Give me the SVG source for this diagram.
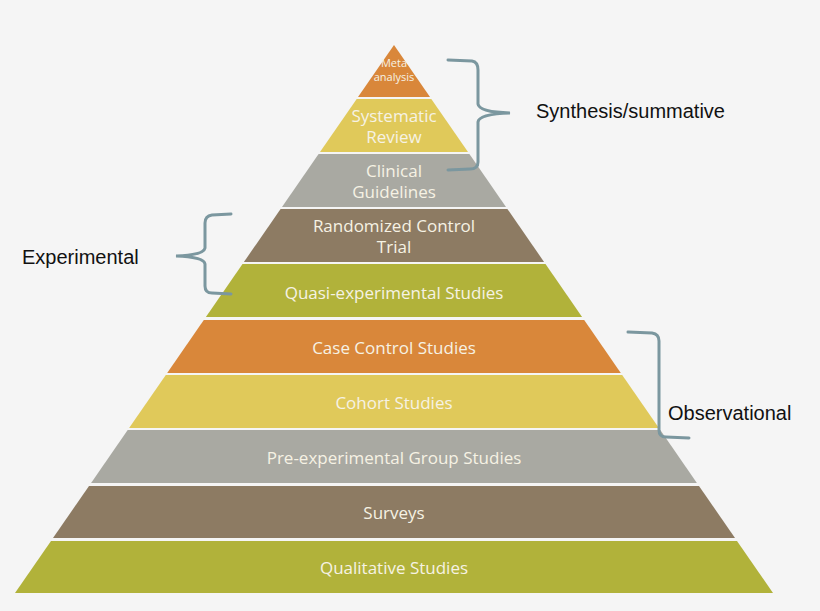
<svg xmlns="http://www.w3.org/2000/svg" width="820" height="611" viewBox="0 0 820 611">
<style>
.o{fill:#d9873a}.y{fill:#e0c95a}.g{fill:#a9a9a2}.b{fill:#8d7b63}.v{fill:#b1b23a}
.t{font-family:"Open Sans",sans-serif;font-size:17px;fill:#f6f2e4;text-anchor:middle}
.l{font-family:"Liberation Sans",Arial,sans-serif;font-size:20px;fill:#111}
.br{fill:none;stroke:#7b979f;stroke-width:3;stroke-linecap:round}
</style>
<rect width="820" height="611" fill="#f5f5f5"/>
<g id="n1"><polygon class="o" points="394,45 430,97 358,97"/><text class="t" style="font-size:11px" x="394" y="67">Meta</text><text class="t" style="font-size:11px" x="394" y="81">analysis</text></g>
<g id="n2"><polygon class="y" points="356.7,99 431.3,99 468,152 320,152"/><text class="t" x="394" y="122">Systematic</text><text class="t" x="394" y="143">Review</text></g>
<g id="n3"><polygon class="g" points="318.6,154 469.4,154 506,207 282,207"/><text class="t" x="394" y="177">Clinical</text><text class="t" x="394" y="198">Guidelines</text></g>
<g id="n4"><polygon class="b" points="280.6,209 507.4,209 544.1,262 243.9,262"/><text class="t" x="394" y="232">Randomized Control</text><text class="t" x="394" y="253">Trial</text></g>
<g id="n5"><polygon class="v" points="242.5,264 545.5,264 582.1,317 205.9,317"/><text class="t" x="394" y="299">Quasi-experimental Studies</text></g>
<g id="n6"><polygon class="o" points="203.8,320 584.2,320 620.8,373 167.2,373"/><text class="t" x="394" y="354">Case Control Studies</text></g>
<g id="n7"><polygon class="y" points="165.8,375 622.2,375 658.9,428 129.1,428"/><text class="t" x="394" y="409">Cohort Studies</text></g>
<g id="n8"><polygon class="g" points="127.7,430 660.3,430 696.9,483 91.1,483"/><text class="t" x="394" y="464">Pre-experimental Group Studies</text></g>
<g id="n9"><polygon class="b" points="89,486 699,486 735,538 53,538"/><text class="t" x="394" y="519">Surveys</text></g>
<g id="n10"><polygon class="v" points="51,541 737,541 773,593 15,593"/><text class="t" x="394" y="574">Qualitative Studies</text></g>
<g id="connectors">
<path class="br" d="M448,60 L472,61 Q478,62 478,70 L478,104 Q479,112 510,113 Q479,114 478,122 L478,162 Q478,169 470,169 L448,170"/>
<path class="br" d="M231,214 L212,215 Q205,216 205,223 L205,248 Q204,255 176,256 Q204,257 205,264 L205,286 Q205,293 212,293 L231,294"/>
<path class="br" d="M628,332 L652,333 Q659,334 659,341 L659,430 Q659,437 666,437 L689,438"/>
</g>
<g id="labels">
<text class="l" x="536" y="118">Synthesis/summative</text>
<text class="l" x="22" y="264">Experimental</text>
<text class="l" x="668" y="420">Observational</text>
</g>
</svg>
